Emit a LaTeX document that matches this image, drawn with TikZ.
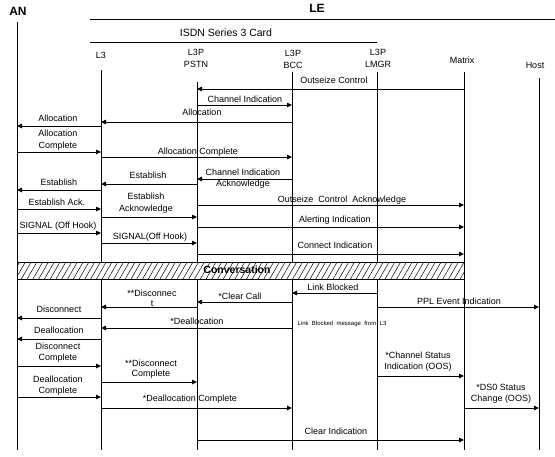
\documentclass[tikz,border=0pt]{standalone}
\usepackage{fontspec}
\setmainfont{Liberation Sans}
\usetikzlibrary{arrows.meta,patterns.meta}
\begin{document}
\begin{tikzpicture}[x=1pt,y=-1pt,
  life/.style={line width=0.9pt},
  msg/.style={line width=0.9pt,-{Triangle[length=5pt,width=4.5pt]}},
  lab/.style={font=\fontsize{9}{11.5}\selectfont,inner sep=0pt,align=center},
  hdr/.style={font=\fontsize{9}{12}\selectfont,inner sep=0pt,align=center},
  big/.style={font=\fontsize{12}{13}\selectfont\bfseries,inner sep=0pt},
  note/.style={font=\fontsize{6}{7}\selectfont,inner sep=0pt},
]
\useasboundingbox (0,0) rectangle (555,456);
% titles
\node[big] (tAN) at (18,11) {AN};
\node[big] (tLE) at (317,8) {LE};
\coordinate (leL) at (90,19); \coordinate (leR) at (555,19);
\draw[life] (leL) -- (leR);
\node[font=\fontsize{10.5}{12}\selectfont,inner sep=0pt] (tISDN) at (226,33) {ISDN Series 3 Card};
\coordinate (isL) at (90,42); \coordinate (isR) at (377,42);
\draw[life] (isL) -- (isR);
% headers
\node[hdr] (hL3) at (101,55) {L3};
\node[hdr] (hPSTN) at (196,58) {L3P\\PSTN};
\node[hdr] (hBCC) at (293,59) {L3P\\BCC};
\node[hdr] (hLMGR) at (378,58) {L3P\\LMGR};
\node[hdr] (hMTX) at (462,60) {Matrix};
\node[hdr] (hHOST) at (535,65) {Host};
% lifelines
\coordinate (AN) at (17,22);
\coordinate (L3) at (101,70);
\coordinate (PSTN) at (197,82);
\coordinate (BCC) at (292,72);
\coordinate (LMGR) at (377,72);
\coordinate (MTX) at (464,72);
\coordinate (HOST) at (539,78);
\foreach \p in {AN,L3,PSTN,BCC,LMGR,MTX,HOST}
  \draw[life] (\p) -- (\p |- 0,450);
% messages
\draw[msg] (MTX |- 0,89) -- (PSTN |- 0,89);
\node[lab] (m1) at (334,80) {Outseize Control};
\draw[msg] (PSTN |- 0,105) -- (BCC |- 0,105);
\node[lab] (m2) at (245,99) {Channel Indication};
\draw[msg] (BCC |- 0,122) -- (L3 |- 0,122);
\node[lab] (m3) at (202,112) {Allocation};
\draw[msg] (L3 |- 0,126) -- (AN |- 0,126);
\node[lab] (m4) at (58,118) {Allocation};
\draw[msg] (AN |- 0,152) -- (L3 |- 0,152);
\node[lab] (m5) at (58,140) {Allocation\\Complete};
\draw[msg] (L3 |- 0,157) -- (BCC |- 0,157);
\node[lab] (m6) at (198,152) {Allocation Complete};
\draw[msg] (BCC |- 0,179) -- (PSTN |- 0,179);
\node[lab] (m7) at (243,178.5) {Channel Indication\\Acknowledge};
\draw[msg] (PSTN |- 0,184) -- (L3 |- 0,184);
\node[lab] (m8) at (148,175) {Establish};
\draw[msg] (L3 |- 0,190) -- (AN |- 0,190);
\node[lab] (m9) at (59,182) {Establish};
\draw[msg] (AN |- 0,209) -- (L3 |- 0,209);
\node[lab] (m10) at (57,202) {Establish Ack.};
\draw[msg] (L3 |- 0,217) -- (PSTN |- 0,217);
\node[lab] (m11) at (146,203) {Establish\\Acknowledge};
\draw[msg] (PSTN |- 0,205) -- (MTX |- 0,205);
\node[lab] (m12) at (342,200) {Outseize~~Control~~Acknowledge};
\draw[msg] (PSTN |- 0,227) -- (MTX |- 0,227);
\node[lab] (m13) at (335,220) {Alerting Indication};
\draw[msg] (AN |- 0,233) -- (L3 |- 0,233);
\node[lab] (m14) at (58,226) {SIGNAL (Off Hook)};
\draw[msg] (L3 |- 0,243) -- (PSTN |- 0,243);
\node[lab] (m15) at (150,237) {SIGNAL(Off Hook)};
\draw[msg] (PSTN |- 0,254) -- (MTX |- 0,254);
\node[lab] (m16) at (335,245) {Connect Indication};
% conversation band
\coordinate (cvA) at (17,262); \coordinate (cvB) at (464,279);
\fill[white] (cvA) rectangle (cvB);
\draw[line width=0.9pt,pattern={Lines[angle=60,distance=5pt,line width=0.5pt]}] (cvA) rectangle (cvB);
\node[font=\fontsize{10.5}{12}\selectfont\bfseries,inner sep=0pt] (conv) at (237,270) {Conversation};
% release
\draw[msg] (LMGR |- 0,293) -- (BCC |- 0,293);
\node[lab] (m17) at (333,287) {Link Blocked};
\draw[msg] (BCC |- 0,302) -- (PSTN |- 0,302);
\node[lab] (m18) at (240,296) {*Clear Call};
\draw[msg] (PSTN |- 0,307) -- (L3 |- 0,307);
\node[lab,font=\fontsize{9}{10}\selectfont] (m19) at (152,298) {**Disconnec\\t};
\draw[msg] (LMGR |- 0,307) -- (HOST |- 0,307);
\node[lab] (m20) at (459,301) {PPL Event Indication};
\draw[msg] (L3 |- 0,318) -- (AN |- 0,318);
\node[lab] (m21) at (59,309) {Disconnect};
\draw[msg] (BCC |- 0,328) -- (L3 |- 0,328);
\node[lab] (m22) at (197,321) {*Deallocation};
\node[note] (m23) at (342,324) {Link~~Blocked~~message~~from~~L3};
\draw[msg] (L3 |- 0,339) -- (AN |- 0,339);
\node[lab] (m24) at (59,330) {Deallocation};
\draw[msg] (AN |- 0,366) -- (L3 |- 0,366);
\node[lab] (m25) at (58,352.5) {Disconnect\\Complete};
\draw[msg] (L3 |- 0,382) -- (PSTN |- 0,382);
\node[lab,font=\fontsize{9}{10}\selectfont] (m26) at (151,369) {**Disconnect\\Complete};
\draw[msg] (AN |- 0,397) -- (L3 |- 0,397);
\node[lab] (m27) at (58,385.5) {Deallocation\\Complete};
\draw[msg] (L3 |- 0,408) -- (BCC |- 0,408);
\node[lab] (m28) at (190,399) {*Deallocation Complete};
\draw[msg] (LMGR |- 0,376) -- (MTX |- 0,376);
\node[lab] (m29) at (418,361.5) {*Channel Status\\Indication (OOS)};
\draw[msg] (MTX |- 0,408) -- (HOST |- 0,408);
\node[lab] (m30) at (501,394) {*DS0 Status\\Change (OOS)};
\draw[msg] (PSTN |- 0,440) -- (MTX |- 0,440);
\node[lab] (m31) at (336,431) {Clear Indication};
\end{tikzpicture}
\end{document}
